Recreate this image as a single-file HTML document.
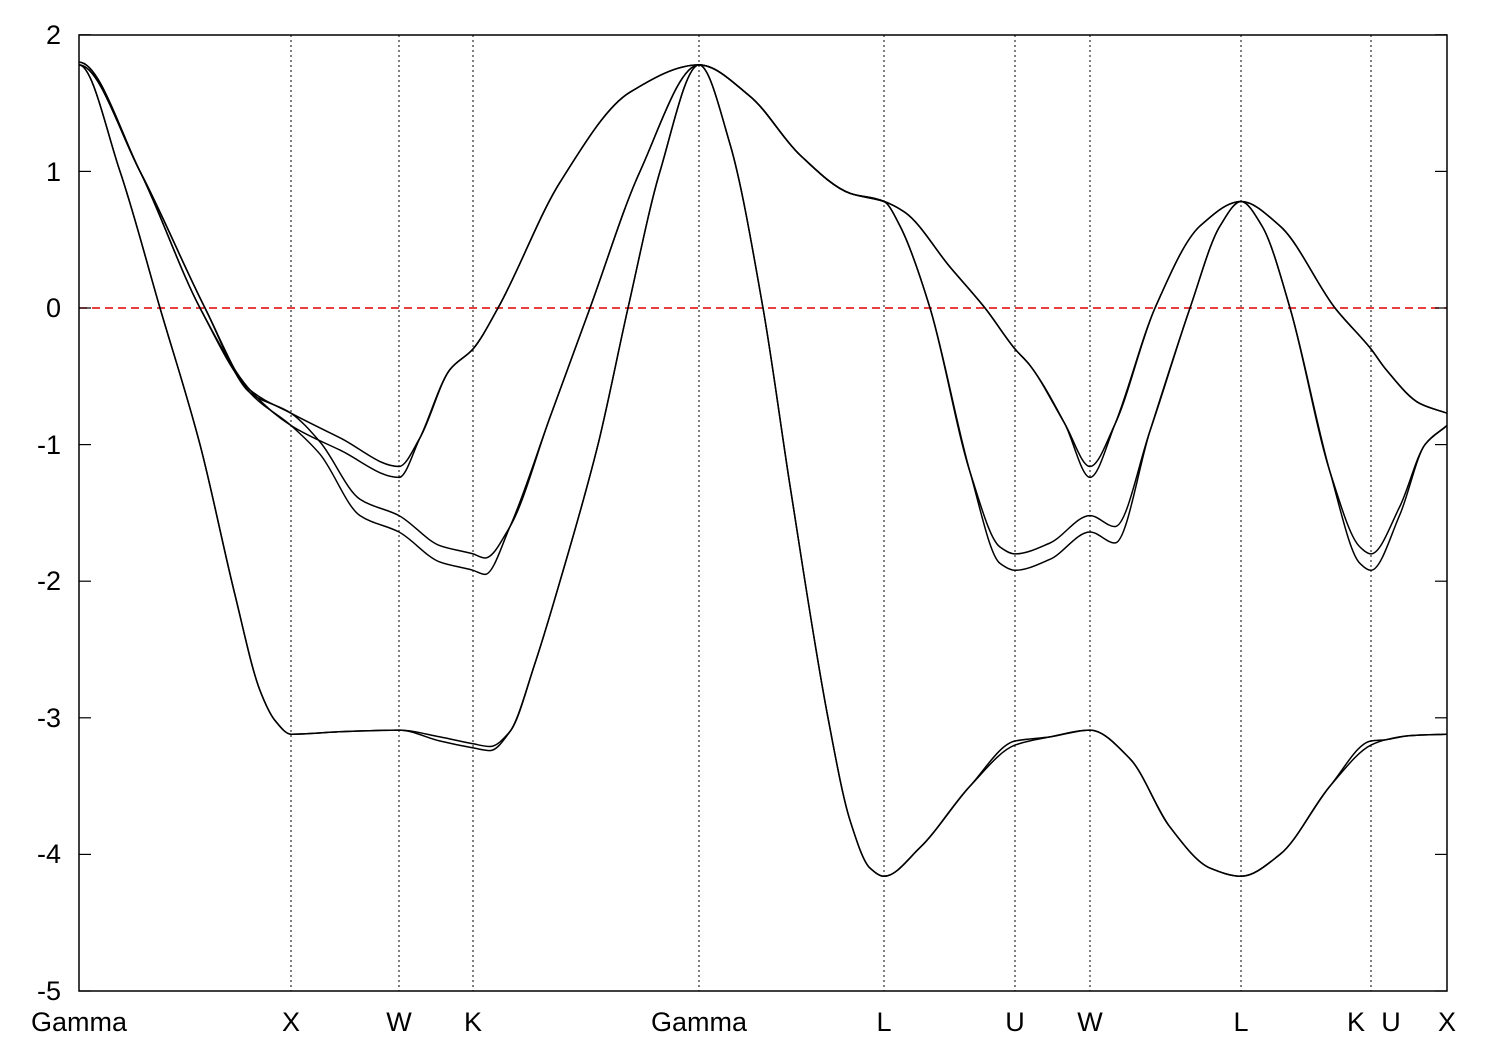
<!DOCTYPE html>
<html><head><meta charset="utf-8"><style>
html,body{margin:0;padding:0;background:#fff;}
svg{display:block;font-family:"Liberation Sans",sans-serif;}
</style></head><body>
<svg id="s" width="1500" height="1050" viewBox="0 0 1500 1050" xmlns="http://www.w3.org/2000/svg">
<rect x="0" y="0" width="1500" height="1050" fill="#fff"/>
<g stroke="#000" stroke-width="1" stroke-dasharray="2,3">
<line x1="291" y1="35" x2="291" y2="991"/>
<line x1="399" y1="35" x2="399" y2="991"/>
<line x1="473" y1="35" x2="473" y2="991"/>
<line x1="699" y1="35" x2="699" y2="991"/>
<line x1="884" y1="35" x2="884" y2="991"/>
<line x1="1015" y1="35" x2="1015" y2="991"/>
<line x1="1090" y1="35" x2="1090" y2="991"/>
<line x1="1241" y1="35" x2="1241" y2="991"/>
<line x1="1371" y1="35" x2="1371" y2="991"/>
</g>
<line x1="79" y1="308" x2="1447" y2="308" stroke="#e00000" stroke-width="1.5" stroke-dasharray="8,5"/>
<g id="bands" fill="none" stroke="#000" stroke-width="1.5"></g>
<rect x="79" y="35" width="1368" height="956" fill="none" stroke="#000" stroke-width="1.5"/>
<g stroke="#000" stroke-width="1.2" id="ticks"></g>
<g font-size="27" text-anchor="end" fill="#000">
<text x="61" y="44">2</text><text x="61" y="181">1</text><text x="61" y="317">0</text>
<text x="61" y="454">-1</text><text x="61" y="590">-2</text><text x="61" y="727">-3</text>
<text x="61" y="863">-4</text><text x="61" y="1000">-5</text>
</g>
<g font-size="27" text-anchor="middle" fill="#000">
<text x="79" y="1031">Gamma</text><text x="291" y="1031">X</text><text x="399" y="1031">W</text>
<text x="473" y="1031">K</text><text x="699" y="1031">Gamma</text><text x="884" y="1031">L</text>
<text x="1015" y="1031">U</text><text x="1090" y="1031">W</text><text x="1241" y="1031">L</text>
<text x="1356" y="1031">K</text><text x="1391" y="1031">U</text><text x="1447" y="1031">X</text>
</g>
</svg>
<script>
var Y=function(e){return 308-e*136.6;};
function mono(pts){
  var n=pts.length,x=pts.map(function(a){return a[0];}),y=pts.map(function(a){return Y(a[1]);});
  var d=[],m=[];
  for(var i=0;i<n-1;i++)d.push((y[i+1]-y[i])/(x[i+1]-x[i]));
  m[0]=d[0];m[n-1]=d[n-2];
  for(i=1;i<n-1;i++){ if(d[i-1]*d[i]<=0)m[i]=0; else { var w1=2*(x[i+1]-x[i])+(x[i]-x[i-1]),w2=(x[i+1]-x[i])+2*(x[i]-x[i-1]); m[i]=(w1+w2)/(w1/d[i-1]+w2/d[i]); } }
  if(Math.abs(pts[0][1])>1.7)m[0]=0;
  var s="M"+x[0]+","+y[0].toFixed(1);
  for(i=0;i<n-1;i++){var h=x[i+1]-x[i];
    s+=" C"+(x[i]+h/3).toFixed(1)+","+(y[i]+m[i]*h/3).toFixed(1)+" "+(x[i+1]-h/3).toFixed(1)+","+(y[i+1]-m[i+1]*h/3).toFixed(1)+" "+x[i+1]+","+y[i+1].toFixed(1);}
  return s;
}
function B1(o){return [[79,1.78],[120,1.0],[160,0],[200,-1.0],[235,-2.1],[260,-2.8],[275,-3.02],[291,-3.12],[345,-3.1],[399,-3.09],[440,-3.14+o],[473,-3.19+o],[490,-3.21+o],[510,-3.1],[535,-2.6],[560,-2.0],[598,-1.0],[628,0],[660,1.0],[699,1.78],[730,1.2],[763,0],[790,-1.3],[828,-3],[850,-3.75],[870,-4.1],[884,-4.16],[920,-3.95],[970,-3.5],[1015,-3.2-o],[1050,-3.14],[1090,-3.09],[1130,-3.3],[1170,-3.8],[1210,-4.1],[1241,-4.16],[1280,-4.0],[1330,-3.5],[1371,-3.2-o],[1386,-3.16],[1410,-3.13],[1447,-3.12]];}
function B2(dX,dW){return [[79,1.80],[140,1.0],[200,0],[250,-0.6],[291,-0.77+dX],[340,-0.95+dX],[399,-1.16+dW],[420,-0.95],[450,-0.45],[473,-0.3],[498,0],[560,0.92],[630,1.58],[699,1.78],[750,1.55],[800,1.12],[850,0.84],[884,0.78],[905,0.7],[950,0.3],[985,0],[1015,-0.3],[1030,-0.42],[1065,-0.85],[1090,-1.16+dW],[1115,-0.85],[1155,0],[1200,0.6],[1241,0.78],[1280,0.6],[1335,0],[1371,-0.3],[1386,-0.45],[1420,-0.7],[1447,-0.77]];}
function B3(sX,d){return [[79,1.78],[140,1.0],[205,0],[250,-0.62],[291,-0.77+sX],[320,-0.98+sX],[360,-1.4+d],[399,-1.52+d],[440,-1.74+d],[473,-1.8+d],[485,-1.83+d],[510,-1.6],[550,-0.8],[590,0],[640,1.0],[699,1.78],[750,1.55],[800,1.12],[850,0.84],[884,0.78],[900,0.6],[930,0],[970,-1.2],[1000,-1.75+d],[1015,-1.8+d],[1050,-1.72+d],[1090,-1.52+d],[1115,-1.6+d],[1150,-0.9],[1190,0],[1220,0.6],[1241,0.78],[1262,0.6],[1290,0],[1330,-1.2],[1360,-1.75+d],[1371,-1.8+d],[1400,-1.45+d*0.5],[1425,-1.0],[1447,-0.86]];}
var g=document.getElementById("bands");
[B1(0),B1(-0.03),B2(0,0),B2(-0.09,-0.08),B3(0,0),B3(-0.09,-0.12)].forEach(function(b){
  var p=document.createElementNS("http://www.w3.org/2000/svg","path");
  p.setAttribute("d",mono(b));g.appendChild(p);
});
var t=document.getElementById("ticks"),h="";
for(var e=-5;e<=2;e++){var y=Y(e);h+='<line x1="79" y1="'+y+'" x2="91" y2="'+y+'"/><line x1="1435" y1="'+y+'" x2="1447" y2="'+y+'"/>';}
t.innerHTML=h;
</script>
</body></html>
